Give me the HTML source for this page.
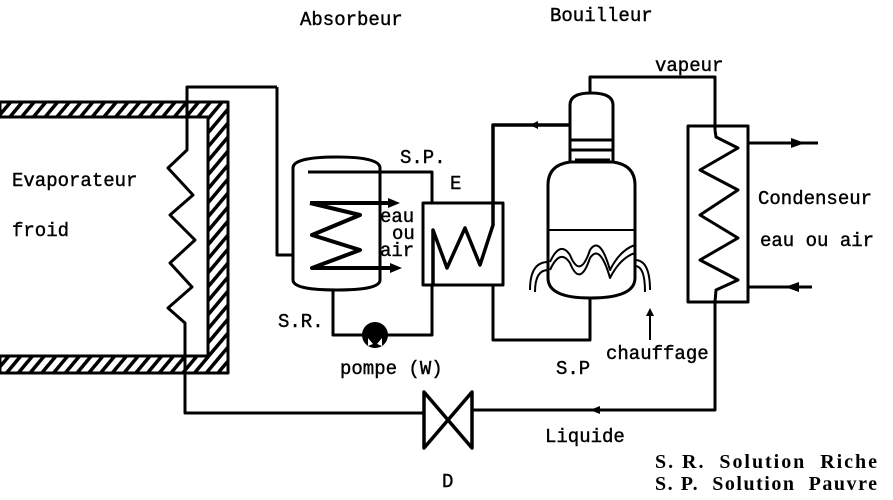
<!DOCTYPE html>
<html><head><meta charset="utf-8"><style>
html,body{margin:0;padding:0;background:#fff}
svg{display:block}
text{font-family:"Liberation Mono",monospace;font-size:19px;fill:#000;stroke:#000;stroke-width:0.4}
.s{font-family:"Liberation Serif",serif;font-size:20px;font-weight:bold;stroke:none;white-space:pre}
</style></head><body>
<svg width="893" height="500" viewBox="0 0 893 500" xmlns="http://www.w3.org/2000/svg">
<defs>
<pattern id="h" width="9" height="9" patternUnits="userSpaceOnUse" patternTransform="rotate(40)">
<rect width="9" height="9" fill="#fff"/><rect width="3.5" height="9" fill="#000"/>
</pattern>
</defs>
<g stroke="#000" stroke-width="3" fill="none" stroke-linejoin="round">
<path d="M0 102 H228 V373 H0 V356 H208 V117 H0 Z" fill="url(#h)"/>
<polyline points="277,87 187,87 187,150 168,168 193,195 170,215 195,240 170,263 192,287 168,308 185,323 185,413 424,413"/>
<polyline points="277,87 277,255 293,255"/>
<path d="M424 392 L472 448 V392 L424 448 Z" stroke-width="3.5"/>
<polyline points="472,410 715,410 715,300"/>
<path d="M293 168 Q293 157 337 157 Q380 157 380 168 V280 Q380 290 337 290 Q293 290 293 280 Z"/>
<polyline points="308,172 432,172 432,203"/>
<path d="M310 203 H392 M310 203 L360 215 L312 235 L360 250 L312 268 H392" stroke-width="4"/>
<polyline points="333,290 333,335 432,335 432,285"/>
<rect x="423" y="203" width="80" height="82"/>
<polyline points="433,285 433,230 447,268 465,228 480,265 493,225 493,125 570,125" stroke-width="3.5"/>
<polyline points="493,285 493,340 590,340 590,298"/>
<path d="M570 162 V105 Q570 93 591 93 Q613 93 613 105 V162"/>
<path d="M570 140 H613 M570 150 H613 M575 160 H610"/>
<path d="M570 162 Q548 165 548 185 V278 Q548 298 590 298 Q635 298 635 278 V185 Q635 165 613 162 Z"/>
<path d="M548 230 H635" stroke-width="2"/>
<path d="M550 262 Q560 240 570 255 Q580 280 590 250 Q600 235 610 270 Q620 250 635 245" stroke-width="2"/>
<path d="M550 270 Q560 248 570 263 Q580 288 590 258 Q600 243 610 278 Q620 258 635 253" stroke-width="2"/>
<path d="M548 262 Q530 262 530 290 M548 270 Q535 270 535 292 M635 260 Q650 260 650 290 M635 266 Q645 266 645 292" stroke-width="2"/>
<polyline points="590,93 590,77 715,77 715,130"/>
<rect x="688" y="126" width="60" height="176"/>
<polyline points="715,130 716,137 738,148 700,170 738,190 700,215 738,238 700,260 738,280 716,290 715,302"/>
<path d="M748 143 H818 M748 287 H812"/>
<path d="M650 340 V312" stroke-width="2"/>
</g>
<g fill="#000">
<path d="M805 143 l-14 -5 v10 z"/>
<path d="M785 287 l14 -5 v10 z"/>
<path d="M400 203 l-12 -5 v10 z"/>
<path d="M402 268 l-12 -5 v10 z"/>
<circle cx="375" cy="335" r="13"/>
<path d="M650 308 l-4 8 h8 z"/>
<path d="M590 410 l10 -4 v8 z"/>
<path d="M530 125 l8 -4 v8 z"/>
</g>
<g fill="#fff"><path d="M368 338 l5 6 l-5 2 z M382 338 l-5 6 l5 2 z"/></g>
<text x="300" y="25">Absorbeur</text>
<text x="550" y="21">Bouilleur</text>
<text x="655" y="71">vapeur</text>
<text x="400" y="163">S.P.</text>
<text x="450" y="189">E</text>
<text x="380" y="222">eau</text>
<text x="392" y="239">ou</text>
<text x="380" y="256">air</text>
<text x="12" y="186">Evaporateur</text>
<text x="12" y="236">froid</text>
<text x="758" y="204">Condenseur</text>
<text x="760" y="246">eau ou air</text>
<text x="278" y="327">S.R.</text>
<text x="340" y="374">pompe (W)</text>
<text x="556" y="374">S.P</text>
<text x="606" y="359">chauffage</text>
<text x="545" y="442">Liquide</text>
<text x="442" y="487">D</text>
<text class="s" x="655" y="468" textLength="222" lengthAdjust="spacing">S. R.  Solution  Riche</text>
<text class="s" x="655" y="490" textLength="222" lengthAdjust="spacing">S. P.  Solution  Pauvre</text>
</svg>
</body></html>
